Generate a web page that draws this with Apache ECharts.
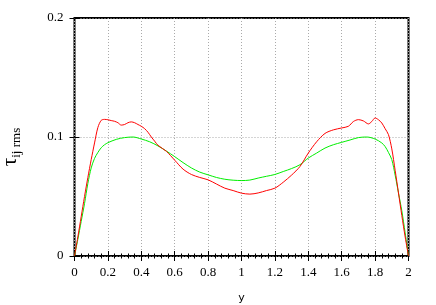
<!DOCTYPE html>
<html><head><meta charset="utf-8">
<script src="https://cdn.jsdelivr.net/npm/echarts@6/dist/echarts.min.js"></script>
<style>html,body{margin:0;padding:0;background:#fff}#c{width:436px;height:305px}</style>
</head><body><div id="c"></div>
<script>
const redX = [0,0.02,0.04,0.06,0.08,0.10,0.12,0.14,0.16,0.18,0.20,0.22,0.24,0.26,0.28,0.30,0.32,0.34,0.36,0.38,0.40,0.42,0.44,0.46,0.48,0.50,0.55,0.60,0.65,0.70,0.75,0.80,0.85,0.90,0.95,1.00,1.05,1.10,1.15,1.20,1.25,1.30,1.35,1.40,1.45,1.50,1.55,1.60,1.64,1.67,1.70,1.73,1.76,1.78,1.80,1.82,1.84,1.86,1.88,1.90,1.92,1.94,1.96,1.98,2.00];
const redY = [0,0.016,0.033,0.050,0.066,0.081,0.095,0.108,0.114,0.1148,0.1145,0.1138,0.1132,0.112,0.110,0.1105,0.112,0.1127,0.112,0.1105,0.109,0.107,0.104,0.100,0.0965,0.093,0.088,0.0805,0.073,0.0685,0.066,0.064,0.0605,0.057,0.055,0.0528,0.052,0.053,0.055,0.057,0.062,0.068,0.0752,0.0865,0.096,0.103,0.106,0.1076,0.109,0.113,0.1146,0.1135,0.111,0.113,0.116,0.1145,0.1118,0.107,0.102,0.090,0.072,0.053,0.034,0.016,0];
const greenX = [0,0.02,0.04,0.06,0.08,0.10,0.12,0.14,0.16,0.18,0.20,0.25,0.30,0.35,0.40,0.45,0.50,0.55,0.60,0.65,0.70,0.75,0.80,0.85,0.90,0.95,1.00,1.05,1.10,1.15,1.20,1.25,1.30,1.35,1.40,1.45,1.50,1.55,1.60,1.65,1.70,1.75,1.80,1.84,1.86,1.88,1.90,1.92,1.94,1.96,1.98,2.00];
const greenY = [0,0.014,0.029,0.044,0.061,0.074,0.082,0.087,0.091,0.0935,0.0952,0.098,0.0995,0.100,0.0983,0.096,0.0925,0.0882,0.0835,0.0785,0.074,0.0705,0.0682,0.066,0.0645,0.0637,0.0634,0.0638,0.0655,0.067,0.0685,0.071,0.0735,0.0767,0.0823,0.0865,0.0907,0.0935,0.0955,0.0975,0.0995,0.100,0.0983,0.095,0.092,0.087,0.081,0.068,0.053,0.038,0.0195,0];
const xTicks = [0,0.2,0.4,0.6,0.8,1,1.2,1.4,1.6,1.8,2];
const yTicks = [0,0.1,0.2];

const chart = echarts.init(document.getElementById('c'), null, {renderer:'canvas'});
const serif = '"Liberation Serif", "DejaVu Serif", serif';
const gridLine = {show:true, lineStyle:{color:'#aaa', type:[1,2], width:1}};
const xBase = {type:'value', min:0, max:2, interval:0.2,
  axisLine:{show:false}, axisTick:{show:true, inside:true, length:5, lineStyle:{color:'#000'}},
  minorTick:{show:true, splitNumber:5, length:2.5, lineStyle:{color:'#000'}}, minorSplitLine:{show:false}};
const yBase = {type:'value', min:0, max:0.2, interval:0.1,
  axisLine:{show:false}, axisTick:{show:true, inside:true, length:5, lineStyle:{color:'#000'}}};
chart.setOption({
  animation:false,
  backgroundColor:'#fff',
  grid:{left:74.5, right:27.5, top:18, bottom:49, containLabel:false, outerBoundsMode:'none', show:true, borderColor:'#000', borderWidth:2, backgroundColor:'transparent'},
  xAxis:[
    Object.assign({}, xBase, {position:'bottom', splitLine:gridLine,
      axisLabel:{color:'#000', fontFamily:serif, fontSize:13, margin:10, formatter:v=>String(+v.toFixed(1))},
      name:'y', nameLocation:'middle', nameGap:37, nameTextStyle:{color:'#000', fontFamily:'"DejaVu Sans", sans-serif', fontSize:11}}),
    Object.assign({}, xBase, {position:'top', splitLine:{show:false}, axisLabel:{show:false}})
  ],
  yAxis:[
    Object.assign({}, yBase, {position:'left', splitLine:gridLine,
      axisLabel:{color:'#000', fontFamily:serif, fontSize:13, margin:11, formatter:v=>String(+v.toFixed(1))},
      name:'{a|τ}{b|ij rms}', nameLocation:'middle', nameGap:54, nameRotate:90,
      nameTextStyle:{color:'#000', fontFamily:serif, fontSize:13, align:'center', padding:[0,0,0,-20], rich:{a:{fontFamily:serif, fontSize:21, color:'#000', verticalAlign:'bottom'}, b:{fontFamily:serif, fontSize:13, color:'#000', verticalAlign:'bottom', padding:[0,0,-3,0]}}}}),
    Object.assign({}, yBase, {position:'right', splitLine:{show:false}, axisLabel:{show:false}})
  ],
  series:[
    {type:'line', data:redX.map((x,i)=>[x,redY[i]]), showSymbol:false, smooth:0.3, lineStyle:{color:'#ff0000', width:1}, itemStyle:{color:'#ff0000'}, z:3},
    {type:'line', data:greenX.map((x,i)=>[x,greenY[i]]), showSymbol:false, smooth:0.3, lineStyle:{color:'#00ee00', width:1}, itemStyle:{color:'#00ee00'}, z:2}
  ]
});
</script></body></html>
